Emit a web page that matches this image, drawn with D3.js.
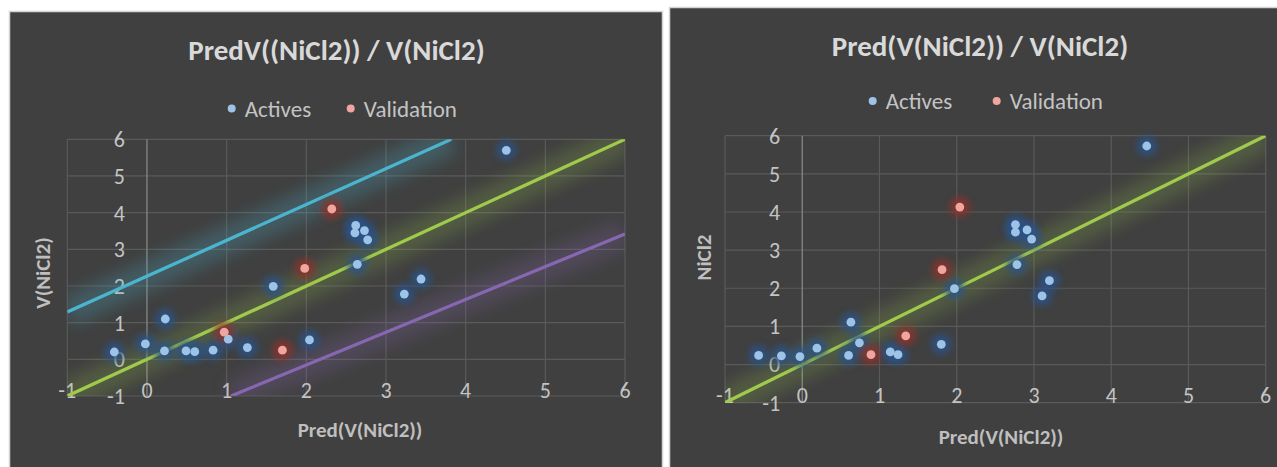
<!DOCTYPE html>
<html>
<head>
<meta charset="utf-8">
<script src="https://cdn.jsdelivr.net/npm/d3@7"></script>
<style>
  body { margin: 0; background: #fff; }
  svg { display: block; }
  text { font-family: Carlito, Lato, "Open Sans", sans-serif; }
</style>
</head>
<body>
<svg width="1277" height="467"></svg>
<script>
// ---- data ----
var ticks = [-1, 0, 1, 2, 3, 4, 5, 6];

// left chart
var leftActivesX = [-0.41, -0.02, 0.23, 0.22, 0.49, 0.60, 0.83, 1.02, 1.26, 1.585, 2.04, 2.62, 2.61, 2.73, 2.77, 2.64, 3.44, 3.23, 4.51];
var leftActivesY = [0.20, 0.42, 1.10, 0.23, 0.23, 0.21, 0.25, 0.55, 0.32, 1.99, 0.53, 3.65, 3.45, 3.51, 3.26, 2.59, 2.19, 1.78, 5.70];
var leftValidX = [2.32, 1.98, 0.97, 1.70];
var leftValidY = [4.10, 2.48, 0.74, 0.25];
var leftUpper = [[-1, 1.29], [3.82, 6]];
var leftIdeal = [[-1, -1], [6, 6]];
var leftLower = [[1.055, -1], [6, 3.42]];

// right chart
var rightActivesX = [-0.565, -0.27, -0.03, 0.19, 0.63, 0.60, 0.74, 1.14, 1.24, 1.80, 1.97, 2.76, 2.76, 2.91, 2.97, 2.78, 3.20, 3.105, 4.46];
var rightActivesY = [0.24, 0.23, 0.21, 0.43, 1.11, 0.24, 0.57, 0.33, 0.26, 0.53, 1.99, 3.67, 3.47, 3.53, 3.29, 2.62, 2.20, 1.80, 5.73];
var rightValidX = [2.04, 1.81, 1.34, 0.89];
var rightValidY = [4.13, 2.49, 0.75, 0.26];
var rightIdeal = [[-1, -1], [6, 6]];

var svg = d3.select('svg');

var defs = svg.append('defs');
defs.append('filter').attr('id', 'blurLine')
    .attr('x', '-30%').attr('y', '-30%').attr('width', '160%').attr('height', '160%')
    .append('feGaussianBlur').attr('stdDeviation', 8);
defs.append('filter').attr('id', 'blurDot')
    .attr('x', '-100%').attr('y', '-100%').attr('width', '300%').attr('height', '300%')
    .append('feGaussianBlur').attr('stdDeviation', 3.5);

function zip(xs, ys) {
    return xs.map(function(x, i) { return [x, ys[i]]; });
}

function drawChart(c) {
    // panel
    svg.append('rect')
        .attr('x', c.panel[0]).attr('y', c.panel[1])
        .attr('width', c.panel[2]).attr('height', c.panel[3])
        .attr('fill', '#404040')
        .attr('stroke', '#d4d4d4').attr('stroke-width', 1.5);

    var x = d3.scaleLinear().domain([-1, 6]).range(c.xr);
    var y = d3.scaleLinear().domain([-1, 6]).range(c.yr);
    var g = svg.append('g');

    var clipId = 'clip' + c.id;
    defs.append('clipPath').attr('id', clipId)
        .append('rect')
        .attr('x', c.xr[0]).attr('y', c.yr[1])
        .attr('width', c.xr[1] - c.xr[0]).attr('height', c.yr[0] - c.yr[1]);

    // grid
    g.selectAll('.hgrid').data(ticks).enter().append('line')
        .attr('x1', c.xr[0]).attr('x2', c.xr[1])
        .attr('y1', function(d) { return y(d); }).attr('y2', function(d) { return y(d); })
        .attr('stroke', '#5a5a5a').attr('stroke-width', 1.2);
    g.selectAll('.vgrid').data(ticks).enter().append('line')
        .attr('y1', c.yr[0]).attr('y2', c.yr[1])
        .attr('x1', function(d) { return x(d); }).attr('x2', function(d) { return x(d); })
        .attr('stroke', function(d) { return d === 0 ? '#8c8c8c' : '#5a5a5a'; })
        .attr('stroke-width', 1.2);

    // tick labels
    g.selectAll('.ylab').data(ticks).enter().append('text')
        .attr('x', x(0) - c.ylabGap)
        .attr('y', function(d) { return y(d); })
        .attr('dy', '0.36em')
        .attr('text-anchor', 'end')
        .attr('fill', '#c4c4c4').attr('font-size', 22)
        .text(function(d) { return d; });
    g.selectAll('.xlab').data(ticks).enter().append('text')
        .attr('x', function(d) { return x(d); })
        .attr('y', c.xlabY)
        .attr('dy', '0.36em')
        .attr('text-anchor', 'middle')
        .attr('fill', '#c4c4c4').attr('font-size', 22)
        .text(function(d) { return d; });

    // bands
    var line = d3.line().x(function(d) { return x(d[0]); }).y(function(d) { return y(d[1]); });
    var lg = g.append('g').attr('clip-path', 'url(#' + clipId + ')');
    c.bands.forEach(function(b) {
        lg.append('path').attr('d', line(b.pts))
            .attr('fill', 'none').attr('stroke', b.color)
            .attr('stroke-width', 30).attr('opacity', b.glow)
            .attr('filter', 'url(#blurLine)');
    });
    c.bands.forEach(function(b) {
        lg.append('path').attr('d', line(b.pts))
            .attr('fill', 'none').attr('stroke', b.color)
            .attr('stroke-width', 3.3);
    });

    // points
    c.series.forEach(function(s) {
        g.selectAll(null).data(s.pts).enter().append('circle')
            .attr('cx', function(d) { return x(d[0]); })
            .attr('cy', function(d) { return y(d[1]); })
            .attr('r', 10).attr('fill', s.glow).attr('opacity', 0.85)
            .attr('filter', 'url(#blurDot)');
    });
    c.series.forEach(function(s) {
        g.selectAll(null).data(s.pts).enter().append('circle')
            .attr('cx', function(d) { return x(d[0]); })
            .attr('cy', function(d) { return y(d[1]); })
            .attr('r', 4.4).attr('fill', s.fill);
    });

    // titles
    g.append('text').attr('x', c.title[0]).attr('y', c.title[1])
        .attr('text-anchor', 'middle').attr('font-weight', 'bold')
        .attr('font-size', 29).attr('fill', '#d9d9d9').text(c.title[2]);

    g.append('text').attr('x', c.xtitle[0]).attr('y', c.xtitle[1])
        .attr('text-anchor', 'middle').attr('font-weight', 'bold')
        .attr('font-size', 21).attr('fill', '#bfbfbf').text(c.xtitle[2]);

    g.append('text')
        .attr('transform', 'translate(' + c.ytitle[0] + ',' + c.ytitle[1] + ') rotate(-90)')
        .attr('text-anchor', 'middle').attr('dy', '0.35em').attr('font-weight', 'bold')
        .attr('font-size', 21).attr('fill', '#bfbfbf').text(c.ytitle[2]);

    // legend
    c.series.forEach(function(s, i) {
        var lx = c.legend[i];
        g.append('circle').attr('cx', lx).attr('cy', c.legendY).attr('r', 4).attr('fill', s.fill);
        g.append('text').attr('x', lx + 13).attr('y', c.legendY)
            .attr('dy', '0.36em')
            .attr('font-size', 23).attr('fill', '#c4c4c4').text(s.name);
    });
}

drawChart({
    id: 'L',
    panel: [9.5, 11.5, 653, 470],
    xr: [67.3, 625], yr: [396, 139.3],
    ylabGap: 22, xlabY: 390.5,
    title: [336.5, 60, 'PredV((NiCl2)) / V(NiCl2)'],
    xtitle: [360, 437, 'Pred(V(NiCl2))'],
    ytitle: [42.5, 273, 'V(NiCl2)'],
    legend: [231.7, 350.7], legendY: 108.5,
    bands: [
        { pts: leftUpper, color: '#4bb5d0', glow: 0.24 },
        { pts: leftIdeal, color: '#9fca4c', glow: 0.2 },
        { pts: leftLower, color: '#8867b2', glow: 0.22 }
    ],
    series: [
        { name: 'Actives', pts: zip(leftActivesX, leftActivesY), fill: '#9dc3e6', glow: '#2a5288' },
        { name: 'Validation', pts: zip(leftValidX, leftValidY), fill: '#f0a5a0', glow: '#8e302c' }
    ]
});

drawChart({
    id: 'R',
    panel: [669.5, 7.5, 620, 470],
    xr: [725, 1265.7], yr: [402.7, 135.7],
    ylabGap: 22, xlabY: 395.5,
    title: [980, 56, 'Pred(V(NiCl2)) / V(NiCl2)'],
    xtitle: [1001, 444, 'Pred(V(NiCl2))'],
    ytitle: [703.5, 257.5, 'NiCl2'],
    legend: [872.7, 996.7], legendY: 101,
    bands: [
        { pts: rightIdeal, color: '#9fca4c', glow: 0.2 }
    ],
    series: [
        { name: 'Actives', pts: zip(rightActivesX, rightActivesY), fill: '#9dc3e6', glow: '#2a5288' },
        { name: 'Validation', pts: zip(rightValidX, rightValidY), fill: '#f0a5a0', glow: '#8e302c' }
    ]
});
</script>
</body>
</html>
